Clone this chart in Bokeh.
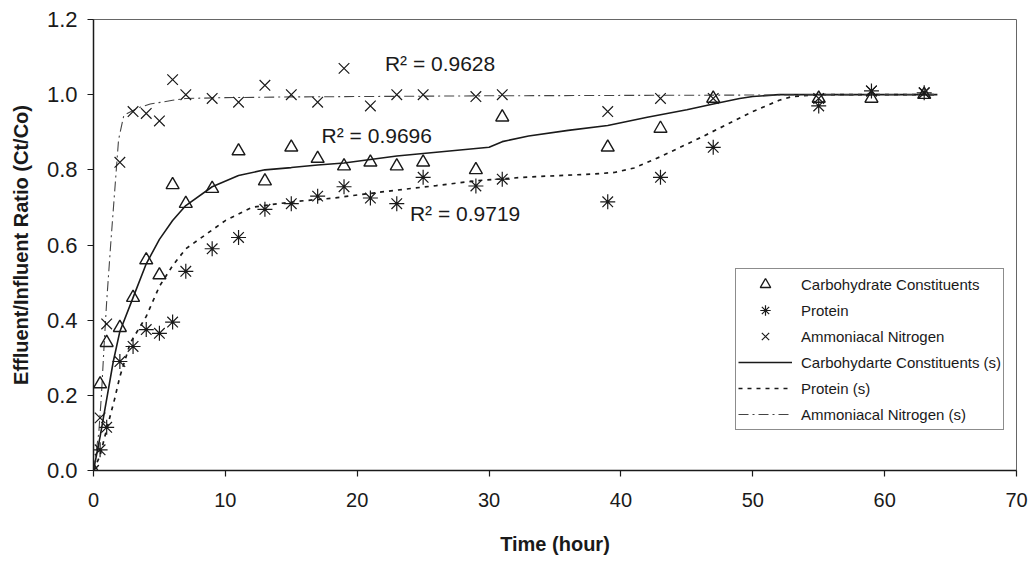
from bokeh.plotting import figure
from bokeh.models import Legend, LegendItem, Range1d, FixedTicker, PrintfTickFormatter, ColumnDataSource
from bokeh.core.properties import value
from bokeh.embed import file_html
from bokeh.resources import INLINE

time_h = [0, 0.5, 1, 2, 3, 4, 5, 6, 7, 9, 11, 13, 15, 17, 19, 21, 23, 25, 29, 31, 39, 43, 47, 55, 59, 63]
carbohydrate = [0, 0.23, 0.34, 0.38, 0.46, 0.56, 0.52, 0.76, 0.71, 0.75, 0.85, 0.77, 0.86, 0.83, 0.81, 0.82,
                0.81, 0.82, 0.80, 0.94, 0.86, 0.91, 0.99, 0.99, 0.99, 1.00]
protein = [0, 0.055, 0.115, 0.29, 0.33, 0.375, 0.365, 0.395, 0.53, 0.59, 0.62, 0.695, 0.71, 0.73, 0.755, 0.725,
           0.71, 0.78, 0.757, 0.775, 0.715, 0.78, 0.86, 0.97, 1.01, 1.005]
ammoniacal = [0, 0.14, 0.39, 0.82, 0.955, 0.95, 0.93, 1.04, 1.0, 0.99, 0.98, 1.025, 1.0, 0.98, 1.07, 0.97,
              1.0, 1.0, 0.995, 1.0, 0.955, 0.99, 0.99, 0.99, 1.01, 1.005]

# ---- smoothed (s) curves ----
carb_s_t = [0, 0.5, 1, 1.5, 2, 3, 4, 5, 6, 7, 9, 11, 13, 15, 17, 19, 23, 27, 30, 31, 33, 36, 39, 42, 45, 47,
            49, 50, 52, 55, 60, 64]
carb_s = [0, 0.09, 0.19, 0.29, 0.37, 0.46, 0.55, 0.615, 0.665, 0.705, 0.755, 0.785, 0.80, 0.806, 0.813, 0.818,
          0.837, 0.85, 0.86, 0.875, 0.89, 0.905, 0.918, 0.94, 0.96, 0.975, 0.99, 0.995, 1.0, 1.0, 1.0, 1.0]
prot_s_t = [0, 0.5, 1, 1.6, 2, 2.8, 4, 5, 6, 7, 9, 10, 12, 14, 16, 18, 20, 23, 26, 29, 33, 38, 39.5, 41, 43,
            46, 48, 50, 52, 53, 55, 60, 64]
prot_s = [0, 0.04, 0.11, 0.19, 0.25, 0.34, 0.41, 0.49, 0.545, 0.59, 0.64, 0.665, 0.70, 0.71, 0.718, 0.724,
          0.733, 0.746, 0.758, 0.771, 0.781, 0.789, 0.793, 0.805, 0.835, 0.885, 0.92, 0.955, 0.985, 0.995,
          1.0, 1.0, 1.0]
amm_s_t = [0, 0.4, 0.6, 0.8, 1.0, 1.3, 1.6, 1.9, 2.3, 3.4, 4.3, 6, 7, 10, 15, 20, 30, 40, 50, 64]
amm_s = [0, 0.1, 0.2, 0.33, 0.45, 0.6, 0.74, 0.88, 0.945, 0.965, 0.975, 0.985, 0.99, 0.992, 0.994, 0.995,
         0.997, 0.998, 0.999, 1.0]

r2_labels = ["R² = 0.9628", "R² = 0.9696", "R² = 0.9719"]
r2_x = [22.1, 17.3, 24.0]
r2_y = [1.083, 0.891, 0.683]

x_ticks = [0, 10, 20, 30, 40, 50, 60, 70]
y_ticks = [0.0, 0.2, 0.4, 0.6, 0.8, 1.0, 1.2]

FONT = "Liberation Sans"
INK = "#1a1a1a"

p = figure(width=1036, height=562, output_backend="svg", toolbar_location=None,
           x_range=Range1d(0, 70), y_range=Range1d(0, 1.2),
           min_border_left=93, min_border_right=20, min_border_top=19, min_border_bottom=92)
p.background_fill_color = "white"
p.border_fill_color = "white"
p.outline_line_color = "#666666"
p.outline_line_width = 1
p.xgrid.visible = False
p.ygrid.visible = False

for ax in (p.xaxis[0], p.yaxis[0]):
    ax.axis_line_color = INK
    ax.axis_line_width = 1.5
    ax.major_tick_line_color = INK
    ax.major_tick_line_width = 1.2
    ax.major_tick_in = 0
    ax.major_tick_out = 6
    ax.minor_tick_line_color = None
    ax.major_label_text_font = FONT
    ax.major_label_text_color = INK
    ax.axis_label_text_font = FONT
    ax.axis_label_text_font_style = "bold"
    ax.axis_label_text_font_size = "20px"
    ax.axis_label_text_color = INK

p.xaxis.major_label_text_font_size = "20px"
p.yaxis.major_label_text_font_size = "22px"
p.xaxis.ticker = FixedTicker(ticks=x_ticks)
p.yaxis.ticker = FixedTicker(ticks=y_ticks)
p.yaxis.formatter = PrintfTickFormatter(format="%.1f")
p.xaxis.axis_label = "Time (hour)"
p.yaxis.axis_label = "Effluent/Influent Ratio (Ct/Co)"
p.xaxis.major_label_standoff = 16
p.xaxis.axis_label_standoff = 23
p.yaxis.major_label_standoff = 10
p.yaxis.axis_label_standoff = 12

# fitted lines
l_carb = p.line(carb_s_t, carb_s, line_color=INK, line_width=1.6)
l_prot = p.line(prot_s_t, prot_s, line_color=INK, line_width=1.7, line_dash="4 5")
l_amm = p.line(amm_s_t, amm_s, line_color="#444444", line_width=1.1, line_dash="10 4 2 4")

# observations
m_carb = p.scatter(time_h, carbohydrate, marker="triangle", size=13, fill_color=None,
                   line_color=INK, line_width=1.4)
m_prot = p.scatter(time_h, protein, marker="asterisk", size=15, line_color=INK, line_width=1.2)
m_amm = p.scatter(time_h, ammoniacal, marker="x", size=15, line_color=INK, line_width=1.2)

src = ColumnDataSource(dict(x=r2_x, y=r2_y, t=r2_labels))
p.text(x="x", y="y", text="t", source=src, text_font=value(FONT), text_font_size="21px",
       text_color=INK, text_baseline="middle", text_align="left")

legend = Legend(items=[
    LegendItem(label="Carbohydrate Constituents", renderers=[m_carb]),
    LegendItem(label="Protein", renderers=[m_prot]),
    LegendItem(label="Ammoniacal Nitrogen", renderers=[m_amm]),
    LegendItem(label="Carbohydarte Constituents (s)", renderers=[l_carb]),
    LegendItem(label="Protein (s)", renderers=[l_prot]),
    LegendItem(label="Ammoniacal Nitrogen (s)", renderers=[l_amm]),
], location=(642, 40))
legend.label_text_font = FONT
legend.label_text_font_size = "15px"
legend.label_text_color = INK
legend.border_line_color = INK
legend.border_line_width = 1
legend.background_fill_alpha = 1
legend.padding = 2
legend.spacing = 0
legend.label_height = 26
legend.glyph_height = 26
legend.glyph_width = 54
legend.label_standoff = 9
legend.margin = 0
p.add_layout(legend, "center")

open("out.html", "w").write(file_html(p, INLINE))
